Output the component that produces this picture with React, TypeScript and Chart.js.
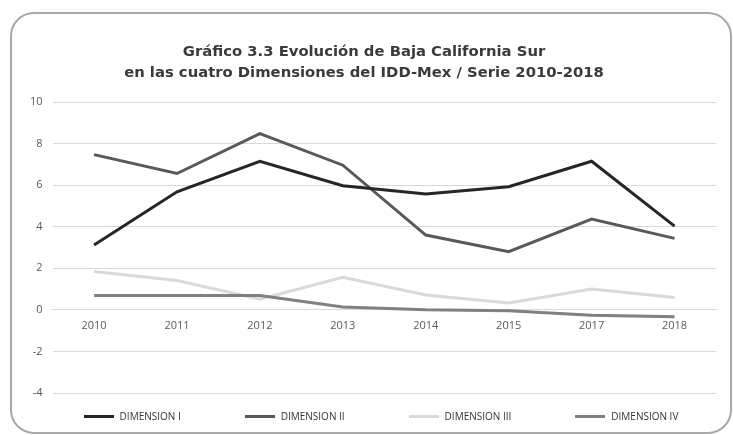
import React, { useEffect, useRef } from "react";
import { Chart, registerables } from "chart.js";

Chart.register(...registerables);

const TITLE_LINES = [
  "Gráfico 3.3 Evolución de Baja California Sur",
  "en las cuatro Dimensiones del IDD-Mex / Serie 2010-2018",
];
const YEARS = ["2010", "2011", "2012", "2013", "2014", "2015", "2017", "2018"];
const DIM_I = [3.12, 5.68, 7.15, 5.97, 5.57, 5.92, 7.15, 4.03];
const DIM_II = [7.47, 6.56, 8.48, 6.96, 3.6, 2.8, 4.37, 3.44];
const DIM_III = [1.84, 1.41, 0.51, 1.57, 0.72, 0.33, 1.0, 0.6];
const DIM_IV = [0.69, 0.69, 0.69, 0.14, 0.0, -0.04, -0.26, -0.33];
const SERIES_LABELS = ["DIMENSION I", "DIMENSION II", "DIMENSION III", "DIMENSION IV"];
const SERIES_COLORS = ["#262626", "#595959", "#d9d9d9", "#808080"];
const Y_MIN = -4;
const Y_MAX = 10;
const Y_STEP = 2;

export default function App() {
  const canvasRef = useRef<HTMLCanvasElement | null>(null);

  useEffect(() => {
    if (!canvasRef.current) return;
    const values = [DIM_I, DIM_II, DIM_III, DIM_IV];
    const chart = new Chart(canvasRef.current, {
      type: "line",
      data: {
        labels: YEARS,
        datasets: values.map((v, i) => ({
          label: SERIES_LABELS[i],
          data: v,
          borderColor: SERIES_COLORS[i],
          backgroundColor: SERIES_COLORS[i],
          borderWidth: 3,
          pointRadius: 0,
          tension: 0,
          fill: false,
          order: i === 2 ? 4 : i,
        })),
      },
      options: {
        animation: false,
        responsive: false,
        maintainAspectRatio: false,
        layout: { padding: { left: 20, right: 17, top: 102, bottom: 42 } },
        plugins: {
          legend: { display: false },
          title: { display: false },
          tooltip: { enabled: false },
        },
        scales: {
          x: {
            position: { y: 0 } as any,
            offset: true,
            grid: { display: false, drawTicks: false },
            border: { display: true, color: "#d9d9d9", width: 1 },
            ticks: {
              color: "#595959",
              font: { family: "'Open Sans'", size: 11 },
              padding: 9,
              maxRotation: 0,
            },
          },
          y: {
            min: Y_MIN,
            max: Y_MAX,
            grid: { color: "#d9d9d9", lineWidth: 1, drawTicks: false },
            border: { display: false },
            ticks: {
              stepSize: Y_STEP,
              color: "#595959",
              font: { family: "'Open Sans'", size: 11 },
              padding: 10,
            },
          },
        },
      },
    });
    return () => chart.destroy();
  }, []);

  return (
    <div style={{ position: "fixed", left: 0, top: 0, width: 733, height: 435, background: "#fff", overflow: "hidden" }}>
      <div
        style={{
          position: "absolute",
          left: 10,
          top: 12,
          width: 722,
          height: 422,
          border: "2.5px solid #a8a8a8",
          borderRadius: 24,
          boxSizing: "border-box",
        }}
      />
      <canvas ref={canvasRef} width={733} height={435} style={{ position: "absolute", left: 0, top: 0 }} />
      <div
        style={{
          position: "absolute",
          left: 0,
          width: 728,
          top: 40,
          textAlign: "center",
          fontFamily: "'DejaVu Sans'",
          fontWeight: "bold",
          fontSize: 14.8,
          lineHeight: "21px",
          color: "#3a3a3a",
        }}
      >
        {TITLE_LINES.map((t) => (
          <div key={t}>{t}</div>
        ))}
      </div>
      <div
        style={{
          position: "absolute",
          left: 50,
          width: 662,
          top: 409,
          height: 14,
          display: "flex",
          justifyContent: "center",
          alignItems: "center",
          gap: 64,
          fontFamily: "'Open Sans'",
          fontSize: 10,
          color: "#333333",
        }}
      >
        {SERIES_LABELS.map((l, i) => (
          <div key={l} style={{ display: "flex", alignItems: "center", gap: 6 }}>
            <span style={{ display: "inline-block", width: 30, height: 3, background: SERIES_COLORS[i] }} />
            <span>{l}</span>
          </div>
        ))}
      </div>
    </div>
  );
}
